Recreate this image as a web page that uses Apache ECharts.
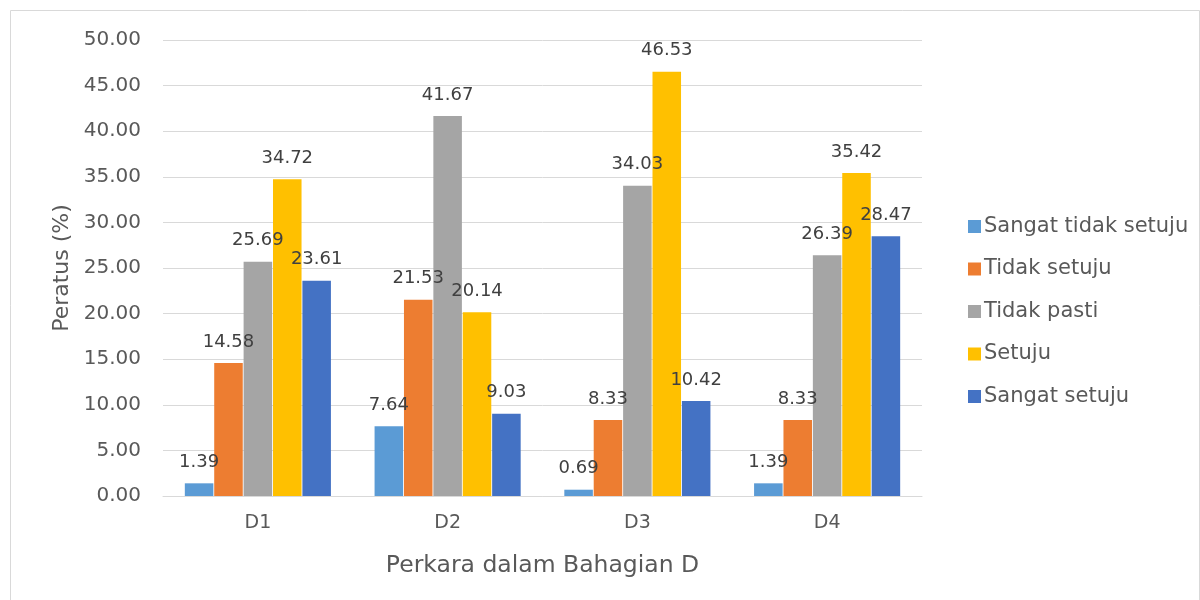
<!DOCTYPE html>
<html>
<head>
<meta charset="utf-8">
<script src="https://cdn.jsdelivr.net/npm/echarts@6/dist/echarts.min.js"></script>
<style>
  html, body { margin: 0; padding: 0; background: #fff; }
  #chart { width: 1200px; height: 600px; }
</style>
</head>
<body>
<div id="chart"></div>
<script>
const categories = ['D1', 'D2', 'D3', 'D4'];
const seriesNames = ['Sangat tidak setuju', 'Tidak setuju', 'Tidak pasti', 'Setuju', 'Sangat setuju'];
const sangatTidakSetuju = [1.39, 7.64, 0.69, 1.39];
const tidakSetuju = [14.58, 21.53, 8.33, 8.33];
const tidakPasti = [25.69, 41.67, 34.03, 26.39];
const setuju = [34.72, 20.14, 46.53, 35.42];
const sangatSetuju = [23.61, 9.03, 10.42, 28.47];
const colors = ['#5b9bd5', '#ed7d31', '#a5a5a5', '#ffc000', '#4472c4'];

const values = [sangatTidakSetuju, tidakSetuju, tidakPasti, setuju, sangatSetuju];

const chart = echarts.init(document.getElementById('chart'));
const option = {
  animation: false,
  textStyle: { fontFamily: 'DejaVu Sans, sans-serif' },
  graphic: [{
    type: 'rect',
    shape: { x: 10.5, y: 10.5, width: 1189, height: 600 },
    style: { fill: 'none', stroke: '#d9d9d9', lineWidth: 1 },
    silent: true
  }],
  legend: {
    orient: 'vertical',
    left: 963,
    top: 211,
    itemWidth: 13,
    itemHeight: 13,
    itemGap: 21.5,
    icon: 'rect',
    textStyle: { fontSize: 21, color: '#595959', padding: [0, 0, 0, -2] },
    data: seriesNames
  },
  grid: { left: 163, right: 278, top: 40, bottom: 104 },
  xAxis: {
    type: 'category',
    data: categories,
    name: 'Perkara dalam Bahagian D',
    nameLocation: 'middle',
    nameGap: 58,
    nameTextStyle: { fontSize: 23.5, color: '#595959' },
    axisLine: { lineStyle: { color: '#d9d9d9' } },
    axisTick: { show: false },
    axisLabel: { fontSize: 19, color: '#595959', margin: 18 }
  },
  yAxis: {
    type: 'value',
    min: 0,
    max: 50,
    interval: 5,
    name: 'Peratus (%)',
    nameLocation: 'middle',
    nameGap: 90,
    nameTextStyle: { fontSize: 22, color: '#595959' },
    axisLabel: {
      fontSize: 20,
      color: '#595959',
      margin: 22,
      formatter: v => v.toFixed(2)
    },
    splitLine: { lineStyle: { color: '#d9d9d9' } }
  },
  series: seriesNames.map((name, i) => ({
    name: name,
    type: 'bar',
    data: values[i],
    barGap: '3%',
    barCategoryGap: '23%',
    itemStyle: { color: colors[i] },
    label: {
      show: true,
      position: 'top',
      distance: 12,
      fontSize: 18,
      color: '#404040',
      formatter: p => p.value.toFixed(2)
    }
  }))
};
chart.setOption(option);
</script>
</body>
</html>
